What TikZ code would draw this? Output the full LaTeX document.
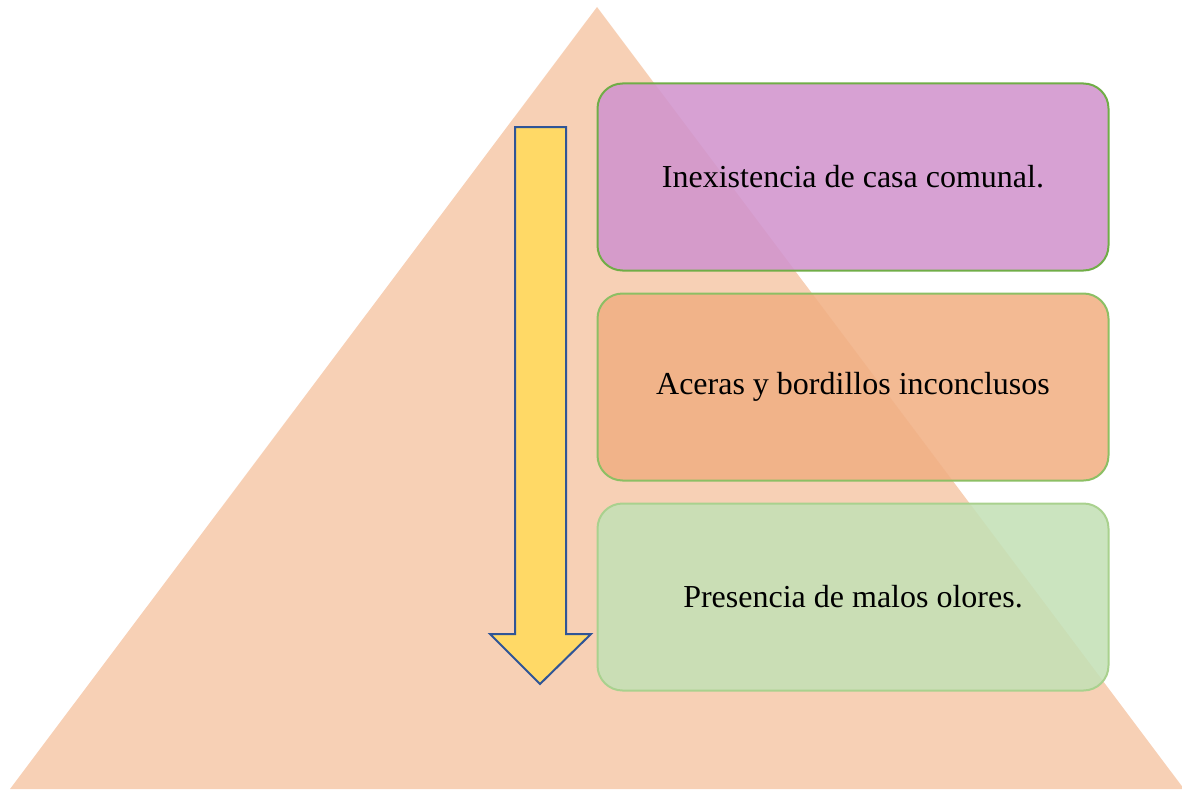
\documentclass[tikz,border=0pt]{standalone}
\usepackage{fontspec}
\setmainfont{Liberation Serif}
\usetikzlibrary{positioning}

\definecolor{peach}{HTML}{F7D0B5}
\definecolor{arrowfill}{HTML}{FFD966}
\definecolor{arrowline}{HTML}{2F5597}
\definecolor{lila}{HTML}{D194CD}
\definecolor{naranja}{HTML}{F1B084}
\definecolor{verde}{HTML}{C4E0B6}
\definecolor{borde1}{HTML}{70AD47}
\definecolor{borde2}{HTML}{8CBF64}
\definecolor{borde3}{HTML}{A9D18E}

\begin{document}
\begin{tikzpicture}[
  x=1pt, y=-1pt,
  node distance=21pt,
  caja/.style={rectangle, rounded corners=25pt, minimum width=511pt, minimum height=187pt,
    line width=2pt, fill opacity=0.88, text opacity=1, align=center,
    font=\fontsize{32}{38}\selectfont},
  flecha/.style={fill=arrowfill, draw=arrowline, line width=2pt, line join=miter}
]
\useasboundingbox (0,0) rectangle (1182,789);

% Piramide
\fill[peach] (597,7) -- (1184,789) -- (10,789) -- cycle;

% Flecha
\draw[flecha] (515,127) -- (566,127) -- (566,634) -- (591,634) -- (540,684)
  -- (490,634) -- (515,634) -- cycle;

% Cajas
\node[caja, fill=lila, draw=borde1] (casa) at (853,177) {Inexistencia de casa comunal.};
\node[caja, fill=naranja, draw=borde2, below=of casa] (aceras) {Aceras y bordillos inconclusos};
\node[caja, fill=verde, draw=borde3, below=of aceras] (olores) {Presencia de malos olores.};

\end{tikzpicture}
\end{document}
